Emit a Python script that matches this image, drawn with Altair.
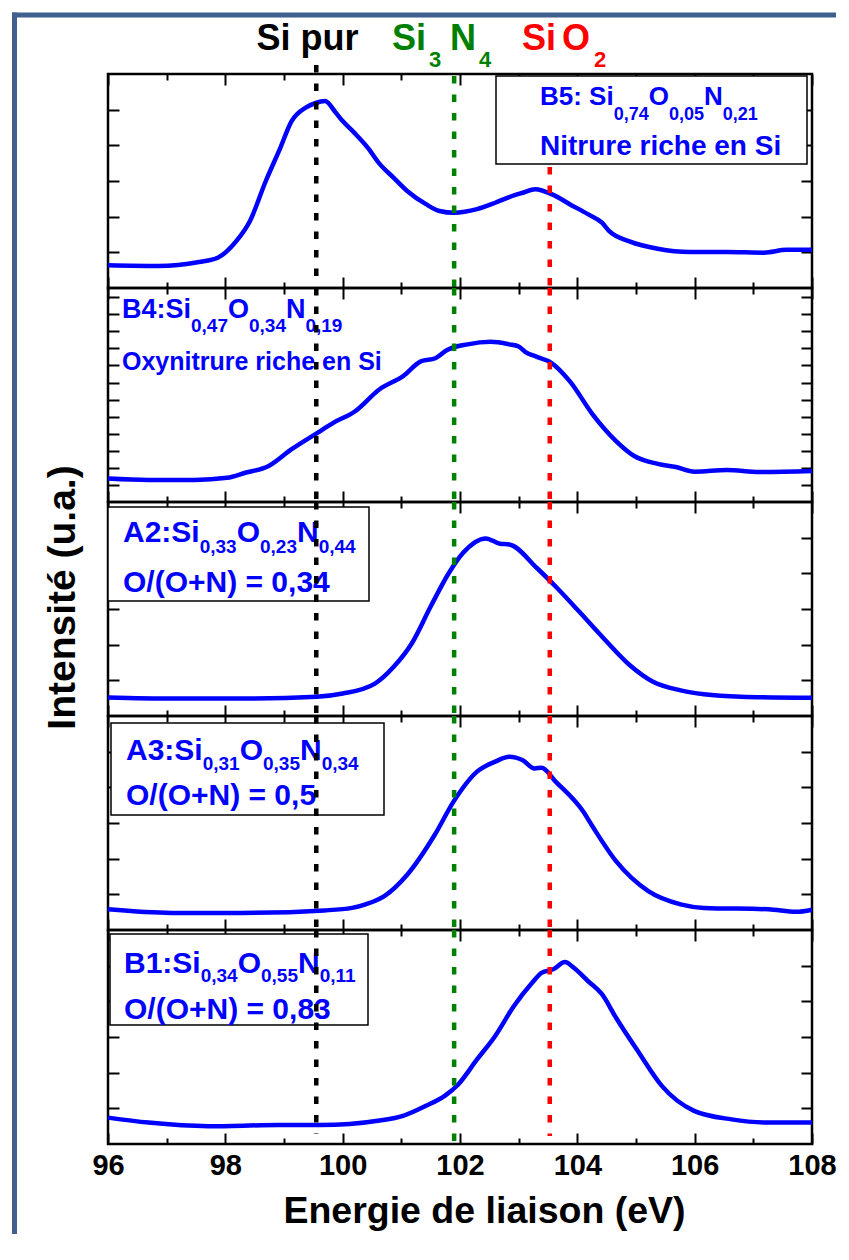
import altair as alt
import pandas as pd

# ---------------- data ----------------
E_B5 = [96.0, 96.85, 97.55, 97.87, 98.19, 98.42, 98.69, 98.93, 99.13, 99.37, 99.53, 99.70, 99.88,
        100.0, 100.2, 100.43, 100.63, 100.87, 101.1, 101.42, 101.65, 101.9, 102.29, 102.6, 102.84,
        103.07, 103.28, 103.59, 103.87, 104.18, 104.42, 104.54, 104.9, 105.37, 105.92, 106.55,
        107.18, 107.57, 108.0]
I_B5 = [0.64, 0.62, 0.73, 0.85, 1.32, 1.88, 3.0, 3.90, 4.68, 5.06, 5.18, 5.24, 4.92,
        4.68, 4.35, 3.93, 3.48, 3.09, 2.72, 2.35, 2.16, 2.11, 2.21, 2.39, 2.55,
        2.67, 2.77, 2.61, 2.35, 2.07, 1.83, 1.60, 1.30, 1.10, 1.01, 1.01,
        0.99, 1.07, 1.07]

E_B4 = [96.0, 96.69, 97.48, 98.03, 98.34, 98.74, 99.13, 99.57, 99.84, 100.2, 100.63, 101.03,
        101.34, 101.58, 101.78, 102.13, 102.52, 102.84, 103.0, 103.11, 103.31, 103.55, 103.87,
        104.26, 104.66, 104.97, 105.37, 105.68, 106.0, 106.55, 107.1, 108.0]
I_B4 = [0.66, 0.62, 0.62, 0.68, 0.82, 1.01, 1.48, 1.94, 2.22, 2.53, 3.16, 3.53,
        3.95, 4.03, 4.26, 4.42, 4.49, 4.42, 4.36, 4.21, 4.07, 3.91, 3.39,
        2.46, 1.71, 1.29, 1.07, 0.98, 0.85, 0.90, 0.84, 0.87]

E_A2 = [96.0, 97.08, 98.27, 99.56, 100.0, 100.55, 100.87, 101.18, 101.5, 101.81, 102.05, 102.44,
        102.68, 102.84, 103.31, 103.63, 104.03, 104.42, 104.89, 105.29, 105.76, 106.16, 106.79, 108.0]
I_A2 = [0.52, 0.49, 0.49, 0.54, 0.63, 0.91, 1.38, 2.04, 3.07, 4.01, 4.57, 4.98,
        4.83, 4.81, 4.15, 3.63, 2.93, 2.23, 1.43, 0.96, 0.72, 0.61, 0.54, 0.51]

E_A3 = [96.0, 97.08, 98.27, 99.69, 100.16, 100.39, 100.71, 101.1, 101.57, 101.89, 102.29, 102.6,
        102.84, 103.07, 103.27, 103.39, 103.63, 104.1, 104.26, 104.66, 105.21, 105.76, 106.16,
        107.26, 107.73, 108.0]
I_A3 = [0.58, 0.48, 0.48, 0.55, 0.62, 0.72, 0.95, 1.55, 2.67, 3.60, 4.44, 4.72,
        4.86, 4.76, 4.53, 4.55, 4.16, 3.32, 2.90, 1.93, 1.09, 0.72, 0.62,
        0.58, 0.51, 0.57]

E_B1 = [96.0, 96.69, 97.71, 98.9, 99.61, 100.63, 101.03, 101.42, 101.74, 101.97, 102.29, 102.6,
        102.92, 103.23, 103.39, 103.59, 103.79, 103.94, 104.18, 104.42, 104.66, 105.05, 105.44,
        105.99, 106.63, 107.26, 108.0]
I_B1 = [0.74, 0.60, 0.50, 0.53, 0.53, 0.66, 0.79, 1.07, 1.35, 1.67, 2.37, 3.03,
        3.87, 4.52, 4.80, 4.90, 5.10, 4.94, 4.57, 4.20, 3.54, 2.56, 1.63,
        0.93, 0.69, 0.60, 0.60]

REF_SI, REF_SI3N4, REF_SIO2 = 99.55, 101.9, 103.53
X_MAJOR = [96, 98, 100, 102, 104, 106, 108]
X_MINOR = [97, 99, 101, 103, 105, 107]
Y_TICKS = [1, 2, 3, 4, 5]
Y_TICKS_B4 = [0.47, 0.95, 1.43, 1.91, 2.39, 2.87, 3.35, 3.83, 4.31, 4.79, 5.27, 5.75]

# ---------------- style ----------------
W, H = 704, 214
FONT = "Liberation Sans"
BLUE = "#0000ff"
GREEN = "#008000"
RED = "#ff0000"
FRAME = "#3f5f8e"

XS = alt.Scale(domain=[96, 108], nice=False, zero=False)
YS = alt.Scale(domain=[0, 6], nice=False, zero=False)
ONE = pd.DataFrame({"k": [0]})

AW = {"0": 556, "1": 556, "2": 556, "3": 556, "4": 556, "5": 556, "6": 556, "7": 556,
      "8": 556, "9": 556, ",": 278, ":": 333, " ": 278, "A": 722, "B": 722, "N": 722,
      "O": 778, "S": 667, "i": 278}


def width(s, size):
    return sum(AW.get(c, 556) for c in s) / 1000.0 * size


def txt(s, x, y, size, color=BLUE, align="left"):
    return alt.Chart(ONE).mark_text(
        text=s, font=FONT, fontSize=size, fontWeight="bold", color=color,
        align=align, baseline="alphabetic"
    ).encode(x=alt.value(x), y=alt.value(y))


def formula(prefix, subs, x0, y_main, y_sub, big, small):
    pieces = [(prefix, False), (subs[0], True), ("O", False), (subs[1], True),
              ("N", False), (subs[2], True)]
    out = []
    x = x0
    for s, is_sub in pieces:
        size = small if is_sub else big
        out.append(txt(s, x, y_sub if is_sub else y_main, size))
        x += width(s, size)
    return out


def box(x0, x1, y0, y1):
    return alt.Chart(ONE).mark_rect(fill="white", stroke="black", strokeWidth=1.5).encode(
        x=alt.value(x0), x2=alt.value(x1), y=alt.value(y0), y2=alt.value(y1))


def vline(e, color, y0, y1):
    return alt.Chart(pd.DataFrame({"E": [e]})).mark_rule(
        color=color, strokeWidth=4.5, strokeDash=[7.5, 11]
    ).encode(x=alt.X("E:Q", scale=XS, axis=None), y=alt.value(y0), y2=alt.value(y1))


def curve(df):
    return alt.Chart(df).mark_line(color=BLUE, strokeWidth=4.5, interpolate="monotone").encode(
        x=alt.X("E:Q", scale=XS, axis=None), y=alt.Y("I:Q", scale=YS, axis=None))


def tick_axis(orient, values, size):
    off = -H if orient in ("top", "bottom") else -W
    return alt.Axis(orient=orient, offset=off, values=values, tickSize=size, tickWidth=2,
                    tickColor="black", labels=False, domain=False, grid=False, title=None)


def axis_layers(df, yt, ytitle=False, xlabels=False):
    L = []
    L.append(alt.Chart(df).mark_line(opacity=0).encode(
        x=alt.X("E:Q", scale=XS, axis=tick_axis("bottom", X_MAJOR, 11)),
        y=alt.Y("I:Q", scale=YS, axis=tick_axis("right", yt, 11))))
    L.append(alt.Chart(df).mark_line(opacity=0).encode(
        x=alt.X("E:Q", scale=XS, axis=tick_axis("bottom", X_MINOR, 6)),
        y=alt.Y("I:Q", scale=YS, axis=tick_axis("left", yt, 11))))
    if ytitle:
        yax = alt.Axis(orient="left", labels=False, ticks=False, domain=False, grid=False,
                       title="Intensité (u.a.)", titleFont=FONT, titleFontSize=39,
                       titleFontWeight="bold", titleColor="black", titleX=-34, titleY=95,
                       titleBaseline="alphabetic", titleAlign="center", titleAngle=270)
        L.append(alt.Chart(df).mark_line(opacity=0).encode(
            x=alt.X("E:Q", scale=XS, axis=tick_axis("top", X_MAJOR, 11)),
            y=alt.Y("I:Q", scale=YS, axis=yax)))
    else:
        L.append(alt.Chart(df).mark_line(opacity=0).encode(
            x=alt.X("E:Q", scale=XS, axis=tick_axis("top", X_MAJOR, 11)),
            y=alt.Y("I:Q", scale=YS, axis=None)))
    L.append(alt.Chart(df).mark_line(opacity=0).encode(
        x=alt.X("E:Q", scale=XS, axis=tick_axis("top", X_MINOR, 6)),
        y=alt.Y("I:Q", scale=YS, axis=None)))
    if xlabels:
        xax = alt.Axis(orient="bottom", values=X_MAJOR, ticks=False, domain=False, grid=False,
                       labels=True, labelFont=FONT, labelFontSize=29, labelFontWeight="bold",
                       labelColor="black", labelPadding=7, labelFlush=False,
                       labelOverlap=False, format="d",
                       title="Energie de liaison (eV)", titleFont=FONT, titleFontSize=37.5,
                       titleFontWeight="bold", titleColor="black", titleX=376, titleY=78,
                       titleBaseline="alphabetic", titleAlign="center")
        L.append(alt.Chart(df).mark_line(opacity=0).encode(
            x=alt.X("E:Q", scale=XS, axis=xax),
            y=alt.Y("I:Q", scale=YS, axis=None)))
    return L


def panel(df, yt, pre, post, ytitle=False, xlabels=False):
    layers = pre + [curve(df)] + post + axis_layers(df, yt, ytitle, xlabels)
    return alt.layer(*layers).resolve_axis(x="independent", y="independent").properties(
        width=W, height=H)


df_b5 = pd.DataFrame({"E": E_B5, "I": I_B5})
df_b4 = pd.DataFrame({"E": E_B4, "I": I_B4})
df_a2 = pd.DataFrame({"E": E_A2, "I": I_A2})
df_a3 = pd.DataFrame({"E": E_A3, "I": I_A3})
df_b1 = pd.DataFrame({"E": E_B1, "I": I_B1})

frame = [
    alt.Chart(ONE).mark_rule(color=FRAME, strokeWidth=5).encode(
        x=alt.value(-96), x2=alt.value(728), y=alt.value(-59), y2=alt.value(-59)),
    alt.Chart(ONE).mark_rule(color=FRAME, strokeWidth=5).encode(
        x=alt.value(-93.5), y=alt.value(-61.5), y2=alt.value(5 * H + 90)),
]

headers = [
    txt("Si pur", 199.5, -24, 36, "black", "center"),
    txt("Si", 284, -24, 36, GREEN), txt("3", 321, -7, 22, GREEN),
    txt("N", 342, -24, 36, GREEN), txt("4", 371, -7, 22, GREEN),
    txt("Si", 414, -24, 36, RED), txt("O", 454, -24, 36, RED), txt("2", 486, -7, 22, RED),
]

p1 = panel(
    df_b5, Y_TICKS,
    frame + [box(388, 699, 2, 90)]
    + formula("B5: Si", ["0,74", "0,05", "0,21"], 432, 31, 46, 26, 18)
    + [txt("Nitrure riche en Si", 432, 81, 28)],
    [vline(REF_SI, "black", -9, H), vline(REF_SI3N4, GREEN, 2, H), vline(REF_SIO2, RED, 93, H)]
    + headers,
)

p2 = panel(
    df_b4, Y_TICKS_B4,
    formula("B4:Si", ["0,47", "0,34", "0,19"], 14, 30, 44, 27, 19)
    + [txt("Oxynitrure riche en Si", 14, 82, 25)],
    [vline(REF_SI, "black", 0, H), vline(REF_SI3N4, GREEN, 0, H), vline(REF_SIO2, RED, 0, H)],
)

p3 = panel(
    df_a2, Y_TICKS,
    [box(0, 261, 5, 99)]
    + formula("A2:Si", ["0,33", "0,23", "0,44"], 15, 40, 51, 30, 19)
    + [txt("O/(O+N) = 0,34", 15, 90, 30)],
    [vline(REF_SI, "black", 0, H), vline(REF_SI3N4, GREEN, 0, H), vline(REF_SIO2, RED, 0, H)],
    ytitle=True,
)

p4 = panel(
    df_a3, Y_TICKS,
    [box(3, 276, 7, 99)]
    + formula("A3:Si", ["0,31", "0,35", "0,34"], 18, 44, 54, 30, 19)
    + [txt("O/(O+N) = 0,5", 18, 89, 30)],
    [vline(REF_SI, "black", 0, H), vline(REF_SI3N4, GREEN, 0, H), vline(REF_SIO2, RED, 0, H)],
)

p5 = panel(
    df_b1, Y_TICKS,
    [box(2, 260, 4, 95)]
    + formula("B1:Si", ["0,34", "0,55", "0,11"], 16, 43, 52, 30, 19)
    + [txt("O/(O+N) = 0,83", 16, 89, 30)],
    [vline(REF_SI, "black", 0, H - 10), vline(REF_SI3N4, GREEN, 0, H),
     vline(REF_SIO2, RED, 0, H - 8)],
    xlabels=True,
)

chart = alt.vconcat(p1, p2, p3, p4, p5, spacing=0, bounds="flush").properties(
    padding={"left": 0, "top": 0, "right": 0, "bottom": 0},
    background="white",
).configure_view(stroke="black", strokeWidth=2.5)

chart.save("out.html", embed_options={"renderer": "svg", "actions": False})
